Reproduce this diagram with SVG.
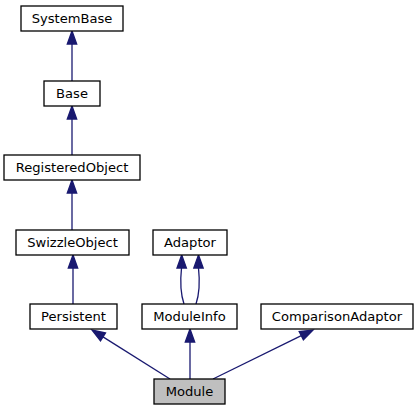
<svg xmlns="http://www.w3.org/2000/svg" width="417" height="411" viewBox="0 0 417 411">
<style>
.box{fill:#ffffff;stroke:#000000;stroke-width:1.3}
.cur{fill:#bfbfbf;stroke:#000000;stroke-width:1.3}
.lbl{font-family:"DejaVu Sans",sans-serif;font-size:13.1px;fill:#000000;text-anchor:middle}
.edge{fill:none;stroke:#191970;stroke-width:1.3}
.head{fill:#191970;stroke:#191970;stroke-width:1.3}
</style>
<rect x="0" y="0" width="417" height="411" fill="#ffffff"/>
<g id="connectors">
<path class="edge" d="M72,81 L72,44"/><polygon class="head" points="67.3,44 72,31 76.7,44"/>
<path class="edge" d="M72,155 L72,119"/><polygon class="head" points="67.3,119 72,106 76.7,119"/>
<path class="edge" d="M72,230 L72,193"/><polygon class="head" points="67.3,193 72,180 76.7,193"/>
<path class="edge" d="M73,304 L73,268"/><polygon class="head" points="68.3,268 73,255 77.7,268"/>
<path class="edge" d="M184,304 C181,295 180,282 181.5,268"/><polygon class="head" points="177,268 181.7,255 186.4,268"/>
<path class="edge" d="M196,304 C199,295 200,282 198.5,268"/><polygon class="head" points="193.8,268 198.5,255 203.2,268"/>
<path class="edge" d="M190,379 L190,342"/><polygon class="head" points="185.3,342 190,329 194.7,342"/>
<path class="edge" d="M170,379 L103,336.9"/><polygon class="head" points="105.5,333 92,330 100.5,340.9"/>
<path class="edge" d="M213,379 L301.3,335.7"/><polygon class="head" points="303.4,339.9 313,330 299.2,331.5"/>
</g>
<g id="node-SystemBase"><rect class="box" x="21" y="6" width="102" height="25"/><text class="lbl" x="72" y="23.2">SystemBase</text></g>
<g id="node-Base"><rect class="box" x="44" y="81" width="56" height="25"/><text class="lbl" x="72" y="98.2">Base</text></g>
<g id="node-RegisteredObject"><rect class="box" x="4" y="155" width="136" height="25"/><text class="lbl" x="72" y="172.2">RegisteredObject</text></g>
<g id="node-SwizzleObject"><rect class="box" x="16" y="230" width="113" height="25"/><text class="lbl" x="72.5" y="247.2">SwizzleObject</text></g>
<g id="node-Adaptor"><rect class="box" x="153" y="230" width="74" height="25"/><text class="lbl" x="190" y="247.2">Adaptor</text></g>
<g id="node-Persistent"><rect class="box" x="30" y="304" width="87" height="25"/><text class="lbl" x="73.5" y="321.2">Persistent</text></g>
<g id="node-ModuleInfo"><rect class="box" x="142" y="304" width="95" height="25"/><text class="lbl" x="189.5" y="321.2">ModuleInfo</text></g>
<g id="node-ComparisonAdaptor"><rect class="box" x="261" y="304" width="152" height="25"/><text class="lbl" x="337" y="321.2">ComparisonAdaptor</text></g>
<g id="node-Module"><rect class="cur" x="154" y="379" width="71" height="25"/><text class="lbl" x="189.5" y="396.2">Module</text></g>
</svg>
